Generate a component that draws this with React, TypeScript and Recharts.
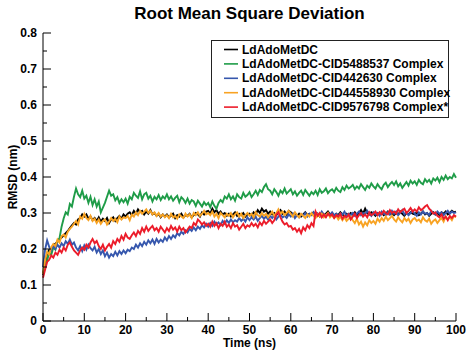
import { Legend, Line, LineChart, XAxis, YAxis } from "recharts";

const FONT = "'Liberation Sans', Arial, Helvetica, sans-serif";

// sampling interval of the trajectories
const TIME_STEP_NS = 0.5;

const X_TICKS = [0, 5, 10, 15, 20, 25, 30, 35, 40, 45, 50, 55, 60, 65, 70, 75, 80, 85, 90, 95, 100];
const Y_TICKS = [0, 0.05, 0.1, 0.15, 0.2, 0.25, 0.3, 0.35, 0.4, 0.45, 0.5, 0.55, 0.6, 0.65, 0.7, 0.75, 0.8];

// RMSD values in pm (1/1000 nm), one every 0.5 ns from 0 to 100 ns
const BLACK_PM = [
  128, 160, 186, 198, 200, 210, 215, 220, 228, 232,
  238, 244, 250, 258, 266, 272, 268, 282, 286, 296,
  290, 296, 284, 290, 280, 286, 278, 288, 276, 284,
  278, 286, 272, 282, 288, 278, 286, 292, 284, 296,
  290, 298, 302, 294, 306, 298, 310, 302, 306, 296,
  304, 298, 308, 296, 300, 292, 298, 288, 296, 290,
  296, 288, 292, 298, 286, 294, 290, 298, 288, 294,
  292, 298, 288, 294, 300, 296, 290, 302, 296, 304,
  306, 298, 312, 302, 308, 298, 304, 296, 300, 292,
  298, 290, 296, 302, 292, 298, 294, 300, 290, 296,
  298, 292, 302, 296, 308, 300, 312, 304, 308, 298,
  304, 296, 300, 294, 302, 308, 298, 304, 296, 306,
  302, 296, 300, 292, 298, 290, 296, 302, 294, 298,
  296, 302, 292, 298, 290, 300, 294, 298, 304, 296,
  300, 292, 298, 294, 302, 296, 290, 298, 294, 300,
  296, 302, 294, 300, 308, 298, 312, 300, 296, 302,
  298, 292, 300, 296, 302, 294, 298, 304, 296, 300,
  294, 300, 296, 304, 298, 292, 300, 296, 302, 298,
  296, 302, 294, 298, 304, 296, 300, 292, 298, 302,
  296, 300, 294, 302, 298, 304, 296, 300, 306, 302,
  304,
];

const GREEN_PM = [
  130, 152, 168, 190, 184, 205, 198, 222, 230, 262,
  285, 302, 296, 325, 318, 345, 368, 352, 344, 362,
  340, 348, 328, 345, 322, 338, 318, 332, 302, 315,
  328, 345, 362, 348, 352, 335, 344, 328, 338, 330,
  340, 326, 345, 338, 356, 348, 342, 360, 338, 352,
  356, 340, 348, 332, 345, 338, 350, 336, 346, 340,
  352, 338, 346, 334, 342, 348, 330, 344, 338, 328,
  340, 326, 336, 332, 320, 334, 326, 318, 330, 322,
  328, 316, 332, 320, 312, 328, 336, 330, 346, 340,
  352, 338, 346, 334, 352, 344, 340, 356, 345, 350,
  358, 344, 352, 362, 350, 364, 358, 372, 380, 366,
  362, 352, 366, 358, 348, 362, 355, 368, 354, 360,
  366, 352, 360, 348, 356, 362, 350, 364, 356, 348,
  358, 352, 362, 350, 366, 356, 360, 368, 355, 362,
  366, 358, 370, 362, 358, 372, 364, 376, 368, 372,
  378, 366, 374, 368, 380, 372, 364, 376, 370, 382,
  374, 368, 380, 372, 366, 378, 384, 372, 380, 386,
  378, 388, 374, 382, 370, 378, 386, 376, 390, 382,
  388, 378, 392, 384, 380, 394, 386, 392, 382, 396,
  390, 398, 386, 400, 392, 404, 394, 400, 396, 408,
  398,
];

const BLUE_PM = [
  150, 198, 224, 206, 196, 210, 200, 212, 204, 216,
  208, 222, 214, 226, 212, 218, 204, 196, 208, 194,
  210, 198, 212, 202, 196, 206, 190, 200, 186, 196,
  180, 190, 176, 186, 180, 192, 182, 194, 186, 196,
  188, 198, 194, 204, 200, 212, 204, 216, 208, 220,
  212, 224, 216, 226, 214, 228, 218, 226, 220, 232,
  224, 236, 228, 238, 232, 244, 238, 248, 242, 252,
  246, 256, 250, 260, 252, 262, 256, 266, 260, 270,
  262, 272, 264, 276, 268, 274, 266, 278, 270, 280,
  272, 282, 274, 280, 276, 286, 278, 284, 276, 288,
  280, 288, 282, 290, 278, 286, 292, 284, 290, 282,
  292, 286, 294, 282, 290, 296, 288, 292, 286, 296,
  290, 298, 286, 294, 288, 296, 292, 300, 290, 298,
  294, 302, 290, 298, 292, 304, 296, 290, 300, 294,
  302, 294, 298, 290, 300, 296, 304, 292, 298, 294,
  300, 292, 298, 304, 294, 300, 296, 306, 298, 292,
  302, 296, 300, 292, 304, 298, 294, 302, 296, 306,
  298, 304, 294, 300, 308, 296, 302, 294, 300, 306,
  298, 292, 302, 296, 304, 298, 300, 294, 306, 300,
  296, 304, 298, 302, 294, 300, 306, 298, 304, 300,
  302,
];

const ORANGE_PM = [
  130, 168, 192, 185, 205, 214, 208, 226, 218, 236,
  240, 232, 248, 256, 262, 270, 278, 268, 290, 284,
  298, 286, 280, 292, 278, 284, 272, 282, 270, 278,
  282, 268, 276, 286, 278, 284, 274, 290, 282, 288,
  286, 292, 280, 296, 290, 302, 294, 306, 298, 304,
  310, 300, 306, 296, 302, 292, 300, 290, 296, 288,
  294, 286, 298, 288, 292, 284, 296, 290, 286, 298,
  290, 296, 286, 300, 294, 302, 292, 298, 306, 296,
  300, 294, 304, 290, 298, 286, 300, 294, 288, 298,
  292, 300, 288, 296, 302, 290, 298, 286, 294, 300,
  292, 298, 288, 302, 294, 290, 300, 292, 298, 288,
  296, 304, 292, 300, 310, 298, 304, 294, 300, 306,
  298, 290, 302, 294, 288, 298, 292, 286, 296, 290,
  300, 292, 286, 296, 290, 298, 288, 294, 300, 288,
  294, 286, 292, 282, 290, 280, 288, 278, 284, 290,
  280, 272, 284, 268, 276, 262, 274, 266, 280, 272,
  278, 270, 284, 276, 286, 278, 290, 280, 286, 292,
  282, 276, 288, 280, 274, 286, 278, 284, 272, 282,
  286, 278, 282, 274, 288, 280, 276, 284, 270, 278,
  282, 272, 280, 286, 276, 290, 282, 288, 280, 292,
  288,
];

const RED_PM = [
  120, 142, 164, 170, 182, 176, 190, 184, 198, 190,
  204, 196, 212, 218, 206, 196, 190, 184, 196, 204,
  198, 212, 204, 218, 228, 216, 222, 208, 200, 212,
  196, 206, 214, 204, 222, 214, 228, 220, 236, 226,
  242, 232, 228, 238, 246, 236, 250, 242, 258, 248,
  262, 250, 258, 264, 252, 258, 248, 262, 254, 246,
  258, 250, 264, 254, 260, 248, 262, 252, 258, 246,
  254, 262, 258, 272, 266, 282, 276, 268, 274, 264,
  270, 262, 276, 264, 272, 258, 270, 264, 276, 262,
  268, 258, 272, 262, 266, 254, 262, 270, 258, 266,
  262, 272, 264, 270, 260, 274, 266, 278, 270, 276,
  282, 272, 280, 296, 302, 288, 276, 268, 272, 262,
  264, 254, 258, 248, 256, 244, 260, 252, 266, 258,
  272, 264, 304, 292, 300, 288, 296, 288, 298, 292,
  296, 286, 294, 290, 298, 284, 292, 288, 296, 282,
  290, 298, 286, 294, 300, 290, 296, 288, 302, 294,
  298, 304, 294, 302, 296, 306, 300, 296, 308, 300,
  304, 298, 310, 302, 308, 312, 300, 306, 314, 304,
  310, 304, 316, 308, 312, 318, 322, 312, 306, 298,
  302, 292, 288, 296, 284, 290, 280, 292, 286, 294,
  290,
];

// legend order = drawing order
const SERIES = [
  { key: "black", name: "LdAdoMetDC", color: "#000000", values: BLACK_PM },
  { key: "green", name: "LdAdoMetDC-CID5488537 Complex", color: "#1f9c48", values: GREEN_PM },
  { key: "blue", name: "LdAdoMetDC-CID442630 Complex", color: "#3657ad", values: BLUE_PM },
  { key: "orange", name: "LdAdoMetDC-CID44558930 Complex", color: "#f8a323", values: ORANGE_PM },
  { key: "red", name: "LdAdoMetDC-CID9576798 Complex*", color: "#ec1c2a", values: RED_PM },
];

const data = BLACK_PM.map((_, i) => {
  const row: Record<string, number> = { t: i * TIME_STEP_NS };
  SERIES.forEach((s) => {
    row[s.key] = s.values[i] / 1000;
  });
  return row;
});

const labelStyle = { fontFamily: FONT, fontWeight: 700, fontSize: 12, fill: "#000" };

function isMajorX(v: number) {
  return v % 10 === 0;
}

function isMajorY(v: number) {
  return Math.round(v * 100) % 10 === 0;
}

function BottomTick({ x, y, payload }: any) {
  const major = isMajorX(payload.value);
  return (
    <g>
      <line x1={x} x2={x} y1={y} y2={y - (major ? 8 : 4)} stroke="#000" />
      {major && (
        <text x={x} y={y + 13} textAnchor="middle" style={labelStyle}>
          {payload.value}
        </text>
      )}
    </g>
  );
}

function TopTick({ x, y, payload }: any) {
  const major = isMajorX(payload.value);
  return <line x1={x} x2={x} y1={y} y2={y + (major ? 8 : 4)} stroke="#000" />;
}

function LeftTick({ x, y, payload }: any) {
  const major = isMajorY(payload.value);
  return (
    <g>
      <line x1={x} x2={x + (major ? 8 : 4)} y1={y} y2={y} stroke="#000" />
      {major && (
        <text x={x - 6} y={y + 4} textAnchor="end" style={labelStyle}>
          {String(Math.round(payload.value * 10) / 10)}
        </text>
      )}
    </g>
  );
}

function RightTick({ x, y, payload }: any) {
  const major = isMajorY(payload.value);
  return <line x1={x} x2={x - (major ? 8 : 4)} y1={y} y2={y} stroke="#000" />;
}

const LEGEND_ROW = 14.4;

// recharts sorts legend items by name, so keep the series order ourselves
function LegendBox() {
  return (
    <div
      style={{
        position: "relative",
        boxSizing: "border-box",
        width: 238,
        height: 78,
        border: "1px solid #222",
        background: "#fff",
        fontFamily: FONT,
        fontWeight: 700,
        fontSize: 12,
        color: "#000",
      }}
    >
      <svg width={30} height={78} style={{ position: "absolute", left: 0, top: 0 }}>
        {SERIES.map((s, i) => {
          const cy = 8.5 + i * LEGEND_ROW;
          return <line key={s.key} x1={12} x2={26} y1={cy} y2={cy} stroke={s.color} strokeWidth={1.6} />;
        })}
      </svg>
      {SERIES.map((s, i) => (
        <div
          key={s.key}
          style={{
            position: "absolute",
            left: 30,
            top: 1.5 + i * LEGEND_ROW,
            lineHeight: "14px",
            whiteSpace: "nowrap",
          }}
        >
          {s.name}
        </div>
      ))}
    </div>
  );
}

export default function App() {
  return (
    <div style={{ position: "absolute", left: 0, top: 0, width: 474, height: 358, background: "#fff" }}>
      <div
        style={{
          position: "absolute",
          left: 43,
          width: 413,
          top: 4,
          textAlign: "center",
          fontFamily: FONT,
          fontWeight: 700,
          fontSize: 17,
          color: "#000",
        }}
      >
        Root Mean Square Deviation
      </div>
      <LineChart
        width={474}
        height={358}
        data={data}
        margin={{ top: 33, right: 18, bottom: 0, left: 0 }}
      >
        <XAxis
          dataKey="t"
          type="number"
          domain={[0, 100]}
          ticks={X_TICKS}
          interval={0}
          height={37}
          tickSize={0}
          tickMargin={0}
          tickLine={false}
          axisLine={{ stroke: "#000" }}
          tick={<BottomTick />}
        />
        <XAxis
          xAxisId="top"
          orientation="top"
          type="number"
          domain={[0, 100]}
          ticks={X_TICKS}
          interval={0}
          height={0}
          tickSize={0}
          tickMargin={0}
          tickLine={false}
          axisLine={{ stroke: "#000" }}
          tick={<TopTick />}
        />
        <YAxis
          type="number"
          domain={[0, 0.8]}
          ticks={Y_TICKS}
          interval={0}
          width={43}
          tickSize={0}
          tickMargin={0}
          tickLine={false}
          axisLine={{ stroke: "#000" }}
          tick={<LeftTick />}
        />
        <YAxis
          yAxisId="right"
          orientation="right"
          type="number"
          domain={[0, 0.8]}
          ticks={Y_TICKS}
          interval={0}
          width={0}
          tickSize={0}
          tickMargin={0}
          tickLine={false}
          axisLine={{ stroke: "#000" }}
          tick={<RightTick />}
        />
        <Legend
          layout="horizontal"
          verticalAlign="middle"
          align="center"
          wrapperStyle={{ left: 211, top: 40, width: 238 }}
          content={<LegendBox />}
        />
        {SERIES.map((s) => (
          <Line
            key={s.key}
            dataKey={s.key}
            name={s.name}
            stroke={s.color}
            strokeWidth={1.9}
            strokeLinejoin="miter"
            dot={false}
            type="linear"
            isAnimationActive={false}
          />
        ))}
      </LineChart>
      <div
        style={{
          position: "absolute",
          left: 43,
          width: 413,
          top: 336,
          textAlign: "center",
          fontFamily: FONT,
          fontWeight: 700,
          fontSize: 12,
          color: "#000",
        }}
      >
        Time (ns)
      </div>
      <div
        style={{
          position: "absolute",
          left: 13,
          top: 177,
          transform: "translate(-50%, -50%) rotate(-90deg)",
          whiteSpace: "nowrap",
          fontFamily: FONT,
          fontWeight: 700,
          fontSize: 12,
          color: "#000",
        }}
      >
        RMSD (nm)
      </div>
    </div>
  );
}
